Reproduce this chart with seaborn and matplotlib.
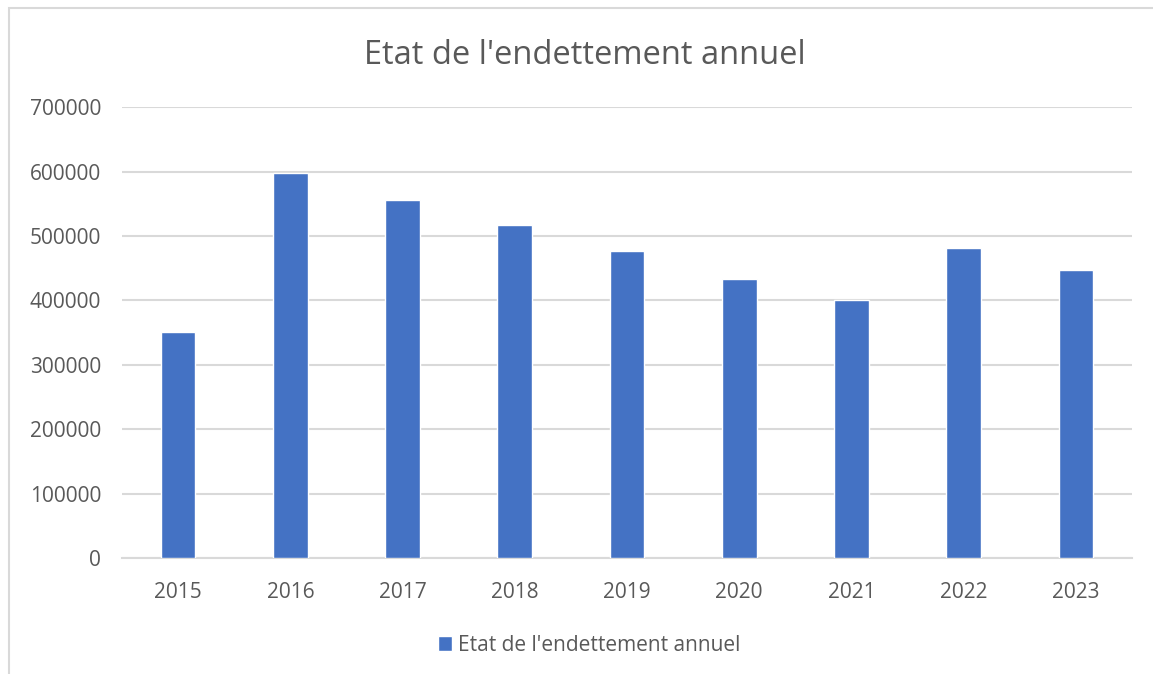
import matplotlib.pyplot as plt
import pandas as pd
import seaborn as sns
from matplotlib.patches import Rectangle

# Values
years = ["2015", "2016", "2017", "2018", "2019", "2020", "2021", "2022", "2023"]
debt = [351000, 598000, 556000, 516500, 476000, 434000, 400000, 481000, 447000]
series_name = "Etat de l'endettement annuel"
y_ticks = [0, 100000, 200000, 300000, 400000, 500000, 600000, 700000]

text_color = "#595959"
grid_color = "#d9d9d9"
bar_color = "#4472C4"

sns.set_style("white")
plt.rcParams["font.family"] = ["Open Sans", "DejaVu Sans"]

df = pd.DataFrame({"year": years, "debt": debt, "serie": series_name})

fig = plt.figure(figsize=(11.53, 6.74), dpi=100)
ax = fig.add_axes([0.1058, 0.1715, 0.876, 0.6697])

# Outer chart border (as in the spreadsheet export)
fig.patches.append(
    Rectangle((9 / 1153, -0.1), 1.2, 1 - 8 / 674 + 0.1, transform=fig.transFigure,
              fill=False, edgecolor=grid_color, linewidth=1.5, zorder=0)
)

sns.barplot(data=df, x="year", y="debt", hue="serie", palette={series_name: bar_color},
            width=0.31, ax=ax, saturation=1, zorder=3)

ax.set_ylim(0, 700000)
ax.set_yticks(y_ticks)
ax.set_yticklabels([str(v) for v in y_ticks])
ax.yaxis.grid(True, color=grid_color, linewidth=1.5, zorder=0)
ax.set_axisbelow(True)
ax.set_xlabel("")
ax.set_ylabel("")

for side in ["top", "right", "left"]:
    ax.spines[side].set_visible(False)
ax.spines["bottom"].set_color(grid_color)
ax.spines["bottom"].set_linewidth(1.5)

ax.tick_params(axis="both", length=0, labelsize=15, labelcolor=text_color)
ax.tick_params(axis="x", pad=17)
ax.tick_params(axis="y", pad=15)

fig.text(0.507, 0.918, "Etat de l'endettement annuel", ha="center", va="center",
         fontsize=23.5, color=text_color)

ax.legend(loc="center", bbox_to_anchor=(0.511, 0.043), bbox_transform=fig.transFigure,
          frameon=False, fontsize=15, labelcolor=text_color, handlelength=0.7,
          handleheight=0.7, handletextpad=0.3)

fig.savefig("out.png", dpi=100)
